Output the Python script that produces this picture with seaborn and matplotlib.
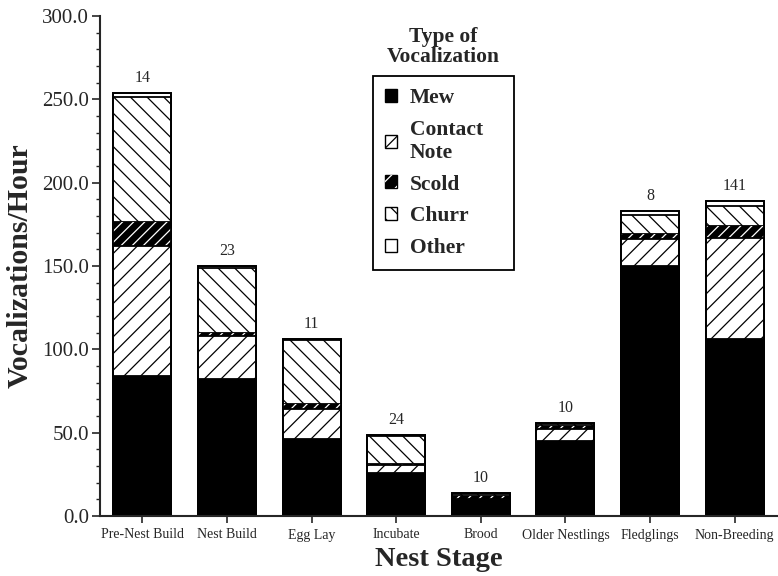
import numpy as np
import pandas as pd
import matplotlib
matplotlib.use("Agg")
import matplotlib.pyplot as plt
from matplotlib.patches import Patch
from matplotlib.ticker import MultipleLocator, FormatStrFormatter
import seaborn as sns

# --- data (vocalizations per hour, by call type) ---
stages = ["Pre-Nest Build", "Nest Build", "Egg Lay", "Incubate", "Brood",
          "Older Nestlings", "Fledglings", "Non-Breeding"]
mew = [84, 82, 46, 26, 9.5, 45, 150, 106]
contact = [78, 26, 18.5, 4.5, 0.5, 7, 16.5, 61]
scold = [14.5, 2, 3, 1, 2, 2, 3, 7]
churr = [75, 39, 38, 16.5, 1.5, 1, 11, 12]
other = [2.5, 1, 1, 0.5, 0.3, 0.6, 2.5, 3]
n_obs = [14, 23, 11, 24, 10, 10, 8, 141]

df = pd.DataFrame({"stage": stages, "mew": mew, "contact": contact,
                   "scold": scold, "churr": churr, "other": other})
# cumulative tops, drawn back-to-front so each layer covers the one below
df["top_mew"] = df["mew"]
df["top_contact"] = df["top_mew"] + df["contact"]
df["top_scold"] = df["top_contact"] + df["scold"]
df["top_churr"] = df["top_scold"] + df["churr"]
df["top_other"] = df["top_churr"] + df["other"]

sns.set_theme(style="ticks")
plt.rcParams["font.family"] = ["Liberation Serif", "DejaVu Serif"]
plt.rcParams["hatch.linewidth"] = 0.9

fig = plt.figure(figsize=(7.78, 5.76), dpi=100)
ax = fig.add_axes([100 / 778, 60 / 576, 677 / 778, 500 / 576])

W = 0.686
LW = 1.3
common = dict(data=df, x="stage", width=W, saturation=1, errorbar=None, ax=ax)

sns.barplot(y="top_other", color="white", edgecolor="black", linewidth=LW, **common)
sns.barplot(y="top_churr", color="white", edgecolor="black", linewidth=LW,
            hatch="\\\\", **common)
sns.barplot(y="top_scold", color="black", edgecolor="black", linewidth=LW, **common)
# white stripes on the black scold band
sns.barplot(y="top_scold", color="black", facecolor="none", edgecolor="white",
            linewidth=0, hatch="///", **common)
sns.barplot(y="top_contact", color="white", edgecolor="black", linewidth=LW,
            hatch="//", **common)
sns.barplot(y="top_mew", color="black", edgecolor="black", linewidth=LW, **common)
# crisp outline round each whole stack
sns.barplot(y="top_other", color="black", facecolor="none", edgecolor="black",
            linewidth=LW, **common)

# sample sizes over the bars
for i, (tot, n) in enumerate(zip(df["top_other"], n_obs)):
    ax.annotate(str(n), (i, tot), xytext=(0, 5), textcoords="offset points",
                ha="center", va="bottom", fontsize=11.5)

ax.set_xlim(-0.5, 7.5)
ax.set_ylim(0, 300)
ax.yaxis.set_major_locator(MultipleLocator(50))
ax.yaxis.set_minor_locator(MultipleLocator(10))
ax.yaxis.set_major_formatter(FormatStrFormatter("%.1f"))
ax.tick_params(axis="y", which="major", length=6, width=1.2, labelsize=15, pad=2)
ax.tick_params(axis="y", which="minor", length=3, width=1.0)
ax.tick_params(axis="x", length=5, width=1.2, labelsize=10, pad=4)

ax.set_xlabel("Nest Stage", fontsize=20.5, fontweight="bold", labelpad=4)
ax.set_ylabel("Vocalizations/Hour", fontsize=21.5, fontweight="bold", labelpad=6)

sns.despine(ax=ax)
for side in ["left", "bottom"]:
    ax.spines[side].set_linewidth(1.5)

# legend: title sits above the framed box
handles = [
    Patch(facecolor="black", edgecolor="black"),
    Patch(facecolor="white", edgecolor="black", hatch="//"),
    (Patch(facecolor="black", edgecolor="black"),
     Patch(facecolor="none", edgecolor="white", linewidth=0, hatch="//")),
    Patch(facecolor="white", edgecolor="black", hatch="\\\\"),
    Patch(facecolor="white", edgecolor="black"),
]
labels = ["Mew", "Contact\nNote", "Scold", "Churr", "Other"]
leg = ax.legend(handles, labels, loc="upper left",
                bbox_to_anchor=(0.403, 0.88, 0.208, 0), mode="expand",
                borderaxespad=0, frameon=True, fancybox=False, framealpha=1,
                edgecolor="black", handlelength=0.56, handleheight=0.56,
                handletextpad=0.6, labelspacing=0.55, borderpad=0.55,
                prop={"size": 15.5, "weight": "bold"})
leg.get_frame().set_linewidth(1.3)

ax.text(0.507, 0.978, "Type of\nVocalization", transform=ax.transAxes,
        ha="center", va="top", fontsize=15.5, fontweight="bold", linespacing=1.0)

fig.savefig("out.png", dpi=100)
